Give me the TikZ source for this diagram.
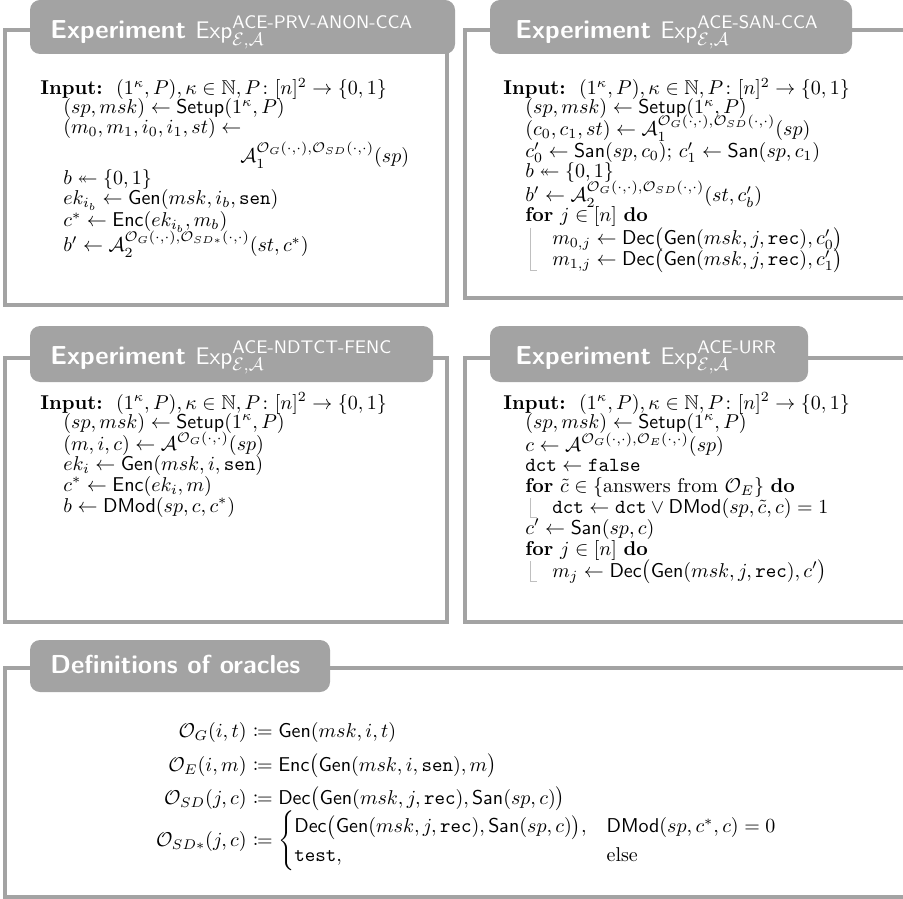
\documentclass[tikz,border=0pt]{standalone}
\usepackage{amsmath,amssymb,mathtools}
\definecolor{fr}{RGB}{163,163,163}
\newcommand{\xSetup}{\mathsf{Setup}}
\newcommand{\xGen}{\mathsf{Gen}}
\newcommand{\xEnc}{\mathsf{Enc}}
\newcommand{\xDec}{\mathsf{Dec}}
\newcommand{\xSan}{\mathsf{San}}
\newcommand{\xDMod}{\mathsf{DMod}}
\newcommand{\xO}{\mathcal{O}}
\newcommand{\xA}{\mathcal{A}}
\newcommand{\xIn}{\textbf{Input:}\ \ $(1^\kappa, P), \kappa\in\mathbb{N}, P\colon [n]^2\to\{0,1\}$}
\newcommand{\xTitle}[1]{Experiment $\mathsf{Exp}^{\textsf{\mdseries #1}}_{\mathcal{E},\mathcal{A}}$}
\begin{document}
\begin{tikzpicture}[x=0.5pt,y=-0.5pt,
  frame/.style={draw=fr, line width=2pt},
  tab/.style={fill=fr, rounded corners=5pt},
  ttl/.style={anchor=base west, inner sep=0, text=white, font=\sffamily\bfseries\fontsize{13}{15}\selectfont},
  ln/.style={anchor=base west, inner sep=0, font=\fontsize{10}{12}\selectfont},
  lhs/.style={anchor=base east, inner sep=0, font=\fontsize{10}{12}\selectfont},
  loopline/.style={draw=black!25, line width=0.4pt}]
\useasboundingbox (0,0) rectangle (903,898);
% frames
\draw[frame] (5,30) rectangle (447,305);
\draw[frame] (910,30) -- (465,30) -- (465,298) -- (910,298);
\draw[frame] (5,358) rectangle (447,622);
\draw[frame] (910,358) -- (465,358) -- (465,622) -- (910,622);
\draw[frame] (910,668) -- (5,668) -- (5,897) -- (910,897);
% tabs
\fill[tab] (30,0) rectangle (455,54);
\fill[tab] (490,0) rectangle (852,54);
\fill[tab] (30,326) rectangle (433,382);
\fill[tab] (490,326) rectangle (808,382);
\fill[tab] (30,640) rectangle (330,692);
\node[ttl] (t1) at (50,39) {\xTitle{ACE-PRV-ANON-CCA}};
\node[ttl] (t2) at (515,39) {\xTitle{ACE-SAN-CCA}};
\node[ttl] (t3) at (50,364) {\xTitle{ACE-NDTCT-FENC}};
\node[ttl] (t4) at (515,364) {\xTitle{ACE-URR}};
\node[ttl] (t5) at (50,673) {Definitions of oracles};
% box 1
\node[ln] (a1) at (40,95) {\xIn};
\node[ln] (a2) at (63,114) {$(sp, msk) \gets \xSetup(1^\kappa, P)$};
\node[ln] (a3) at (63,134) {$(m_0, m_1, i_0, i_1, st) \gets$};
\node[ln] (a4) at (240,163) {$\xA_1^{\xO_G(\cdot,\cdot),\xO_{SD}(\cdot,\cdot)}(sp)$};
\node[ln] (a5) at (63,185) {$b \twoheadleftarrow \{0,1\}$};
\node[ln] (a6) at (63,205) {$ek_{i_b} \gets \xGen(msk, i_b, \mathtt{sen})$};
\node[ln] (a7) at (63,227) {$c^* \gets \xEnc(ek_{i_b}, m_b)$};
\node[ln] (a8) at (63,252) {$b' \gets \xA_2^{\xO_G(\cdot,\cdot),\xO_{SD*}(\cdot,\cdot)}(st, c^*)$};
% box 2
\node[ln] (b1) at (503,95) {\xIn};
\node[ln] (b2) at (525,114) {$(sp, msk) \gets \xSetup(1^\kappa, P)$};
\node[ln] (b3) at (525,136) {$(c_0, c_1, st) \gets \xA_1^{\xO_G(\cdot,\cdot),\xO_{SD}(\cdot,\cdot)}(sp)$};
\node[ln] (b4) at (525,158) {$c'_0 \gets \xSan(sp, c_0);\, c'_1 \gets \xSan(sp, c_1)$};
\node[ln] (b5) at (525,178) {$b \twoheadleftarrow \{0,1\}$};
\node[ln] (b6) at (525,202) {$b' \gets \xA_2^{\xO_G(\cdot,\cdot),\xO_{SD}(\cdot,\cdot)}(st, c'_b)$};
\node[ln] (b7) at (525,222) {\textbf{for} $j\in[n]$ \textbf{do}};
\node[ln] (b8) at (552,245) {$m_{0,j} \gets \xDec\bigl(\xGen(msk, j, \mathtt{rec}), c'_0\bigr)$};
\node[ln] (b9) at (552,266) {$m_{1,j} \gets \xDec\bigl(\xGen(msk, j, \mathtt{rec}), c'_1\bigr)$};
\draw[loopline] (530,228) -- (530,270) -- (537,270);
% box 3
\node[ln] (c1) at (40,409) {\xIn};
\node[ln] (c2) at (63,428) {$(sp, msk) \gets \xSetup(1^\kappa, P)$};
\node[ln] (c3) at (63,450) {$(m, i, c) \gets \xA^{\xO_G(\cdot,\cdot)}(sp)$};
\node[ln] (c4) at (63,470) {$ek_i \gets \xGen(msk, i, \mathtt{sen})$};
\node[ln] (c5) at (63,491) {$c^* \gets \xEnc(ek_i, m)$};
\node[ln] (c6) at (63,512) {$b \gets \xDMod(sp, c, c^*)$};
% box 4
\node[ln] (d1) at (503,409) {\xIn};
\node[ln] (d2) at (525,428) {$(sp, msk) \gets \xSetup(1^\kappa, P)$};
\node[ln] (d3) at (525,451) {$c \gets \xA^{\xO_G(\cdot,\cdot),\xO_E(\cdot,\cdot)}(sp)$};
\node[ln] (d4) at (525,471) {$\mathtt{dct} \gets \mathtt{false}$};
\node[ln] (d5) at (525,492) {\textbf{for} $\tilde c\in\{\text{answers from }\xO_E\}$ \textbf{do}};
\node[ln] (d6) at (552,513) {$\mathtt{dct} \gets \mathtt{dct} \vee \xDMod(sp,\tilde c, c) = 1$};
\node[ln] (d7) at (525,534) {$c' \gets \xSan(sp, c)$};
\node[ln] (d8) at (525,555) {\textbf{for} $j\in[n]$ \textbf{do}};
\node[ln] (d9) at (552,577) {$m_j \gets \xDec\bigl(\xGen(msk, j, \mathtt{rec}), c'\bigr)$};
\draw[loopline] (530,498) -- (530,517) -- (537,517);
\draw[loopline] (530,561) -- (530,581) -- (537,581);
% box 5
\node[lhs] (e1) at (247,737) {$\xO_G(i,t)$};
\node[ln] (f1) at (247,737) {${}\coloneqq \xGen(msk, i, t)$};
\node[lhs] (e2) at (247,771) {$\xO_E(i,m)$};
\node[ln] (f2) at (247,771) {${}\coloneqq \xEnc\bigl(\xGen(msk, i, \mathtt{sen}), m\bigr)$};
\node[lhs] (e3) at (247,804) {$\xO_{SD}(j,c)$};
\node[ln] (f3) at (247,804) {${}\coloneqq \xDec\bigl(\xGen(msk, j, \mathtt{rec}), \xSan(sp,c)\bigr)$};
\node[lhs] (e4) at (247,846) {$\xO_{SD*}(j,c)$};
\node[ln] (f4) at (247,846) {${}\coloneqq \begin{cases}\xDec\bigl(\xGen(msk, j, \mathtt{rec}), \xSan(sp,c)\bigr), & \xDMod(sp, c^*, c) = 0\\ \mathtt{test}, & \text{else}\end{cases}$};
\end{tikzpicture}
\end{document}
